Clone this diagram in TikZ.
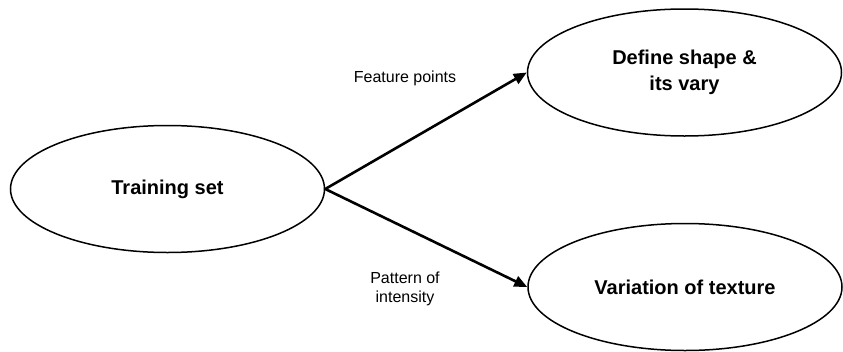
\documentclass[tikz,border=0pt]{standalone}
\usepackage{fontspec}
\setmainfont{Liberation Sans}
\usetikzlibrary{shapes.geometric,arrows.meta}

\tikzset{
  oval/.style={ellipse, draw=black, line width=1.5pt, minimum width=314pt,
    minimum height=127pt, inner sep=0pt, align=center,
    font=\fontsize{20}{26}\selectfont\bfseries},
  flow/.style={line width=2.6pt, -{Triangle[length=13pt,width=11pt]}},
  tag/.style={align=center, font=\fontsize{16}{19}\selectfont}
}

\begin{document}
\begin{tikzpicture}[x=1pt,y=-1pt]
  \useasboundingbox (0,0) rectangle (843,351);

  % input and the two derived models
  \node[oval] (train) at (167.5,189) {Training set};
  \node[oval] (shape) at (684.5,72.5) {Define shape \&\\its vary};
  \node[oval] (texture) at (685,287) {Variation of texture};

  % connectors
  \draw[flow] (train.east) -- (shape.west);
  \draw[flow] (train.east) -- (texture.west);

  % connector captions
  \node[tag] (lblshape) at (405,78) {Feature points};
  \node[tag] (lbltexture) at (405,289) {Pattern of\\intensity};
\end{tikzpicture}
\end{document}
